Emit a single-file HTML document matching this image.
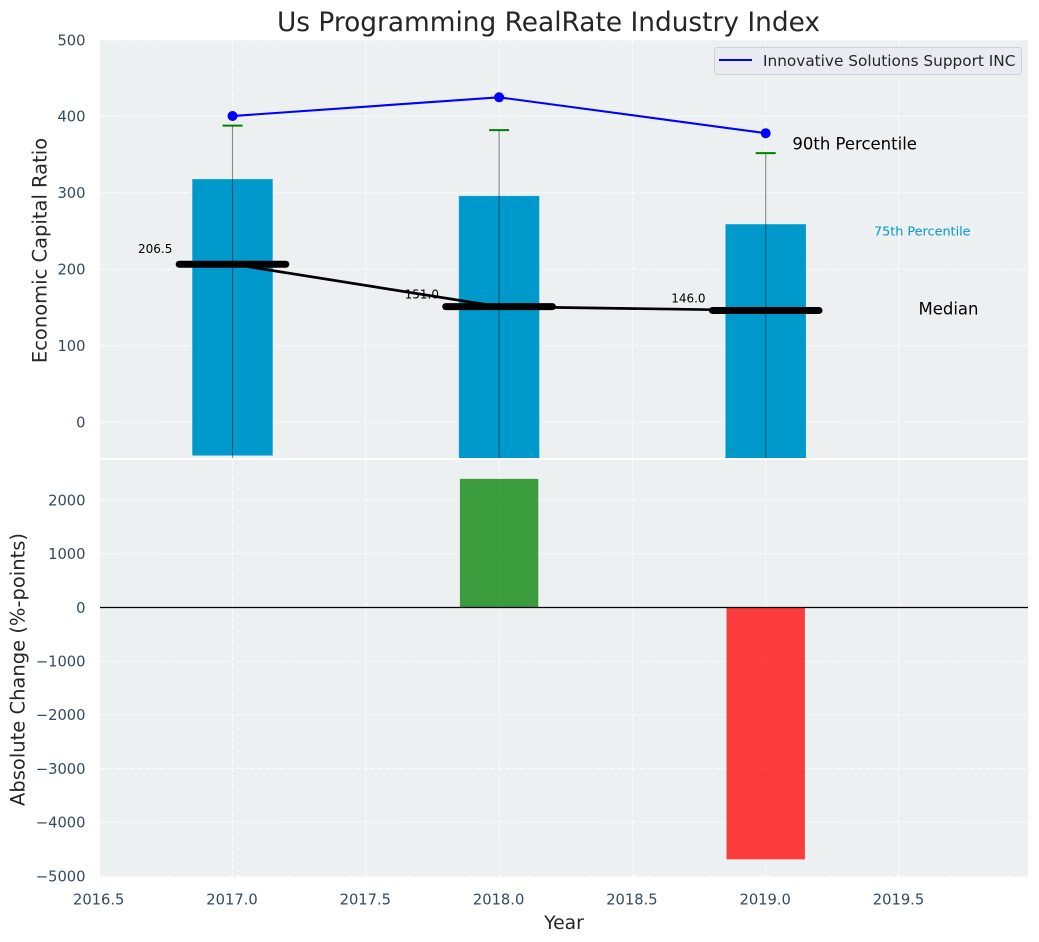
<!DOCTYPE html>
<html lang="en">
<head>
<meta charset="utf-8">
<title>Us Programming RealRate Industry Index</title>
<style>
html,body{margin:0;padding:0;background:#fff;}
svg{display:block;font-family:"DejaVu Sans","Liberation Sans",sans-serif;}
</style>
</head>
<body>
<svg id="chart" xmlns="http://www.w3.org/2000/svg" width="1039" height="942" viewBox="0 0 1039 942">
  <defs>
    <clipPath id="clip-top"><rect x="100" y="40" width="928" height="418"></rect></clipPath>
    <clipPath id="clip-bottom"><rect x="100" y="460" width="928" height="417"></rect></clipPath>
  </defs>
  <rect x="100" y="40" width="928" height="418" fill="#ecf0f1"></rect>
  <rect x="100" y="460" width="928" height="417" fill="#ecf0f1"></rect>
  <g id="grid-top" clip-path="url(#clip-top)"></g>
  <g id="grid-bottom" clip-path="url(#clip-bottom)"></g>
  <g id="marks-top" clip-path="url(#clip-top)"></g>
  <g id="marks-bottom" clip-path="url(#clip-bottom)"></g>
  <g id="labels"></g>
  <text x="548.5" y="31" text-anchor="middle" font-size="26.4" fill="#262626">Us Programming RealRate Industry Index</text>
  <text x="564" y="929" text-anchor="middle" font-size="18.8" fill="#262626">Year</text>
  <text transform="translate(46.5,250.5) rotate(-90)" text-anchor="middle" font-size="19.5" fill="#262626">Economic Capital Ratio</text>
  <text transform="translate(24.5,669.5) rotate(-90)" text-anchor="middle" font-size="19.5" fill="#262626">Absolute Change (%-points)</text>
  <g>
    <rect x="714.5" y="47.5" width="307" height="27" rx="3" fill="#eaeaf2" stroke="#cfcfd4" stroke-width="1"></rect>
    <line x1="719" y1="60" x2="752" y2="60" stroke="#0000ff" stroke-width="2"></line>
    <text x="763" y="66" font-size="15.3" fill="#262626">Innovative Solutions Support INC</text>
  </g>
</svg>
<script>
const years = [2017, 2018, 2019];
const p90Line = [400.5, 425, 378];
const whiskerHigh = [388, 382, 352];
const whiskerLow = [-60, -60, -60];
const bar75 = [318, 296, 259];
const barBase = [-44, -60, -60];
const medians = [206.5, 151, 146];
const changes = [0, 2395, -4690];
const xTicks = [2016.5, 2017, 2017.5, 2018, 2018.5, 2019, 2019.5];
const yTicksTop = [0, 100, 200, 300, 400, 500];
const yTicksBottom = [-5000, -4000, -3000, -2000, -1000, 0, 1000, 2000];

const SVGNS = 'http://www.w3.org/2000/svg';
function xAx(v) { return 232.5 + (v - 2017) * 266.6; }
function yTop(v) { return 422 - v * 0.764; }
function yBottom(v) { return 607.5 - v * 0.0537; }
function add(parent, tag, attrs, content) {
  const el = document.createElementNS(SVGNS, tag);
  for (const k in attrs) el.setAttribute(k, attrs[k]);
  if (content !== undefined) el.textContent = content;
  document.getElementById(parent).appendChild(el);
  return el;
}
function fmtTick(v) { return (v < 0 ? '\u2212' + Math.abs(v) : String(v)); }
let el;
const gridStyle = { stroke: '#ffffff', 'stroke-width': 1, 'stroke-dasharray': '5 2.5', 'stroke-opacity': 0.85 };

xTicks.forEach(function (t) {
  el = add('grid-top', 'line', Object.assign({ x1: xAx(t), x2: xAx(t), y1: 40, y2: 458 }, gridStyle));
  
  
  el = add('grid-bottom', 'line', Object.assign({ x1: xAx(t), x2: xAx(t), y1: 460, y2: 877 }, gridStyle));
  
  
  el = add('labels', 'text', { x: xAx(t) - 0.5, y: 904.5, 'text-anchor': 'middle', 'font-size': 14.7, fill: '#34495e' }, t.toFixed(1));
  
  
});
yTicksTop.forEach(function (t) {
  el = add('grid-top', 'line', Object.assign({ x1: 100, x2: 1028, y1: yTop(t), y2: yTop(t) }, gridStyle));
  
  
  el = add('labels', 'text', { x: 85.5, y: yTop(t) + 5.3, 'text-anchor': 'end', 'font-size': 14.7, fill: '#34495e' }, fmtTick(t));
  
  
});
yTicksBottom.forEach(function (t) {
  el = add('grid-bottom', 'line', Object.assign({ x1: 100, x2: 1028, y1: yBottom(t), y2: yBottom(t) }, gridStyle));
  
  
  el = add('labels', 'text', { x: 85.5, y: yBottom(t) + 5.3, 'text-anchor': 'end', 'font-size': 14.7, fill: '#34495e' }, fmtTick(t));
  
  
});

years.forEach(function (yr, i) {
  el = add('marks-top', 'rect', {
    x: xAx(yr - 0.15) - 0.3, width: xAx(yr + 0.15) - xAx(yr - 0.15) + 0.6,
    y: yTop(bar75[i]), height: yTop(barBase[i]) - yTop(bar75[i]),
    fill: '#0099cc', stroke: '#ffffff', 'stroke-opacity': 0.2, 'stroke-width': 0.8
  });
  
  
});
years.forEach(function (yr, i) {
  el = add('marks-top', 'text', {
    x: xAx(yr - 0.29), y: yTop(medians[i] * 1.07), 'text-anchor': 'middle', 'font-size': 12, fill: '#000000'
  }, medians[i].toFixed(1));
  
  
  el = add('marks-top', 'line', {
    x1: xAx(yr), x2: xAx(yr), y1: yTop(whiskerHigh[i]), y2: yTop(whiskerLow[i]),
    stroke: '#000000', 'stroke-opacity': 0.45, 'stroke-width': 1.1
  });
  
  
  el = add('marks-top', 'line', {
    x1: xAx(yr) - 10, x2: xAx(yr) + 10, y1: yTop(whiskerHigh[i]), y2: yTop(whiskerHigh[i]),
    stroke: '#008000', 'stroke-width': 2
  });
  
  
});

el = add('marks-top', 'polyline', {
  points: years.map(function (yr, i) { return xAx(yr) + ',' + yTop(medians[i]); }).join(' '),
  fill: 'none', stroke: '#000000', 'stroke-width': 2.7
});


el = add('marks-top', 'polyline', {
  points: years.map(function (yr, i) { return xAx(yr) + ',' + yTop(p90Line[i]); }).join(' '),
  fill: 'none', stroke: '#0000ff', 'stroke-width': 2.1
});


years.forEach(function (yr, i) {
  el = add('marks-top', 'circle', { cx: xAx(yr), cy: yTop(p90Line[i]), r: 5, fill: '#0000ff' });
  
  
  el = add('marks-top', 'line', {
    x1: xAx(yr - 0.2), x2: xAx(yr + 0.2), y1: yTop(medians[i]), y2: yTop(medians[i]),
    stroke: '#000000', 'stroke-width': 7, 'stroke-linecap': 'round'
  });
  
  
});

el = add('marks-top', 'text', { x: xAx(2019.1), y: yTop(357), 'font-size': 16.5, fill: '#000000' }, '90th Percentile');


el = add('marks-top', 'text', { x: xAx(2019.406), y: yTop(244), 'font-size': 12.8, fill: '#0099cc' }, '75th Percentile');


el = add('marks-top', 'text', { x: xAx(2019.573), y: yTop(141), 'font-size': 16.5, fill: '#000000' }, 'Median');



years.forEach(function (yr, i) {
  if (changes[i] === 0) return;
  const top = yBottom(Math.max(changes[i], 0));
  const bot = yBottom(Math.min(changes[i], 0));
  el = add('marks-bottom', 'rect', {
    x: xAx(yr - 0.147), width: xAx(yr + 0.147) - xAx(yr - 0.147), y: top, height: bot - top,
    fill: changes[i] > 0 ? '#008000' : '#ff0000', 'fill-opacity': 0.75
  });
  
  
});
el = add('marks-bottom', 'line', { x1: 100, x2: 1028, y1: yBottom(0), y2: yBottom(0), stroke: '#000000', 'stroke-width': 1.3 });


</script>
</body>
</html>
